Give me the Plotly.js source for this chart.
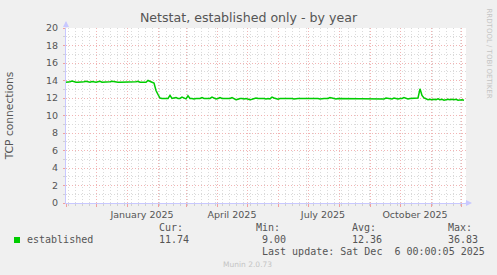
<!DOCTYPE html>
<html>
<head>
<meta charset="utf-8">
<script src="https://cdn.plot.ly/plotly-3.0.1.min.js"></script>
<style>html,body{margin:0;padding:0;background:#f0f0f0;}#chart{width:497px;height:275px;}</style>
</head>
<body>
<div id="chart"></div>
<script>
const startDate = '2024-11-01';
const stepDays = 2;
const established = [
13.8,13.8,13.85,13.95,13.85,13.8,13.8,13.8,13.8,13.85,
13.9,13.85,13.8,13.88,13.8,13.8,13.85,13.9,13.8,13.8,
13.8,13.8,13.85,13.92,13.85,13.8,13.8,13.8,13.8,13.8,
13.8,13.8,13.8,13.8,13.8,13.85,13.9,13.8,13.8,13.8,
13.8,14.0,13.85,13.8,13.7,12.85,12.4,12.0,11.95,11.95,
11.95,11.95,12.3,11.95,12.0,12.05,11.95,11.95,12.1,11.95,
11.9,12.25,11.95,11.95,11.9,11.95,11.95,11.95,12.05,11.95,
11.95,11.95,11.95,12.1,11.95,11.9,11.95,12.05,11.95,11.95,
12.0,11.95,11.95,12.05,11.9,11.8,11.85,11.95,11.95,11.9,
11.95,11.9,11.8,11.85,11.95,12.0,11.95,11.95,12.0,11.95,
11.9,11.95,11.9,12.1,12.0,11.9,11.85,11.95,11.95,11.95,
11.95,11.95,12.0,11.95,11.9,11.95,11.95,11.95,11.95,11.95,
11.95,11.95,12.0,12.0,11.95,12.0,11.95,11.9,11.95,11.95,
11.95,11.95,12.05,12.0,11.95,11.9,11.95,11.95,11.9,11.95,
11.95,11.95,11.95,11.95,11.95,11.95,11.95,11.95,11.95,11.9,
11.95,11.95,11.95,11.95,11.95,11.95,11.95,11.95,11.95,11.9,
12.0,11.95,11.95,11.9,12.0,11.95,11.9,11.95,11.95,12.05,
11.95,11.9,11.95,11.95,11.95,12.0,12.0,13.05,12.3,12.0,
11.85,11.8,11.85,11.8,11.85,11.8,11.9,11.8,11.85,11.75,
11.8,11.85,11.8,11.85,11.8,11.85,11.75,11.8,11.8,11.74
];
const monthTicks = ['2024-11-01','2024-12-01','2025-01-01','2025-02-01','2025-03-01','2025-04-01',
  '2025-05-01','2025-06-01','2025-07-01','2025-08-01','2025-09-01','2025-10-01','2025-11-01','2025-12-01'];
const monthLabels = ['','','January 2025','','','April 2025','','','July 2025','','','October 2025','',''];
const xRange = ['2024-11-01','2025-12-06'];
const yTicks = [0,2,4,6,8,10,12,14,16,18,20];
const legendName = 'established';
const statHeads = ['Cur:','Min:','Avg:','Max:'];
const statVals = ['11.74','9.00','12.36','36.83'];
const lastUpdate = 'Last update: Sat Dec \u00a06 00:00:05 2025';

// ---- build x dates ----
const t0 = new Date(startDate + 'T00:00:00Z').getTime();
const xDates = established.map((_, i) => new Date(t0 + i * stepDays * 86400000).toISOString().slice(0, 10));

// pixel -> paper helpers for texts outside the plot
const L = 66, T = 28, W = 400, H = 175;
const px = x => (x - L) / W;
const py = y => (T + H - y) / H;

const mono = {family: 'DejaVu Sans Mono', size: 10, color: '#555'};
const annotations = [];
const statX = [158, 255, 351, 446.7];
const statValX = [158, 261, 351, 446.7];
statHeads.forEach((h, i) => annotations.push({xref:'paper', yref:'paper', x: px(statX[i] - 1), y: py(227.7), text: h, showarrow:false, xanchor:'left', yanchor:'middle', font: mono}));
statVals.forEach((v, i) => annotations.push({xref:'paper', yref:'paper', x: px(statValX[i] - 1), y: py(239.7), text: v, showarrow:false, xanchor:'left', yanchor:'middle', font: mono}));
annotations.push({xref:'paper', yref:'paper', x: px(25), y: py(239.7), text: legendName, showarrow:false, xanchor:'left', yanchor:'middle', font: mono});
annotations.push({xref:'paper', yref:'paper', x: px(260), y: py(251.7), text: lastUpdate, showarrow:false, xanchor:'left', yanchor:'middle', font: mono});
annotations.push({xref:'paper', yref:'paper', x: px(247.7), y: py(264), text: 'Munin 2.0.73', showarrow:false, xanchor:'center', yanchor:'middle', font: {family:'DejaVu Sans', size: 7.5, color:'#c4c4c4'}});
annotations.push({xref:'paper', yref:'paper', x: px(488.5), y: py(54), text: 'RRDTOOL / TOBI OETIKER', showarrow:false, xanchor:'center', yanchor:'middle', textangle: 90, font: {family:'DejaVu Sans', size: 7, color:'#c4c4c4'}});
// axis arrows
annotations.push({xref:'paper', yref:'paper', x: px(66), y: py(21), ax: 0, ay: 8, text:'', showarrow:true, arrowhead:2, arrowsize:1, arrowwidth:1.2, arrowcolor:'#c8c8ff'});
annotations.push({xref:'paper', yref:'paper', x: px(472), y: py(203), ax: -8, ay: 0, text:'', showarrow:true, arrowhead:2, arrowsize:1, arrowwidth:1.2, arrowcolor:'#c8c8ff'});

const trace = {
  x: xDates, y: established, type: 'scatter', mode: 'lines', name: legendName,
  line: {color: '#00cc00', width: 1.5}, hoverinfo: 'skip'
};

const layout = {
  width: 497, height: 275,
  paper_bgcolor: '#f0f0f0', plot_bgcolor: '#ffffff',
  margin: {l: L, r: 497 - L - W, t: T, b: 275 - T - H, pad: 0},
  showlegend: false,
  font: {family: 'DejaVu Sans', color: '#555'},
  title: {text: 'Netstat, established only - by year', x: 0.5, xref: 'container', xanchor: 'center',
          y: 1 - 18 / 275, yref: 'container', yanchor: 'middle',
          font: {family: 'DejaVu Sans', size: 12.6, color: '#555'}},
  xaxis: {
    type: 'date', range: xRange, tickmode: 'array', tickvals: monthTicks, ticktext: monthLabels,
    ticklabelshift: 15, tickfont: {family: 'DejaVu Sans', size: 9.5, color: '#555'},
    ticks: 'outside', ticklen: 3, tickcolor: '#f0a0a0', tickwidth: 1,
    showgrid: true, gridcolor: '#f2b4b4', griddash: '1px,2px', gridwidth: 1,
    minor: {tick0: '2024-11-03', dtick: 7 * 86400000, showgrid: true, gridcolor: '#dadada', griddash: '1px,2px', ticks: 'outside', ticklen: 2, tickcolor: '#d0d0d0'},
    showline: true, linecolor: '#c8c8ff', linewidth: 1, zeroline: false, fixedrange: true
  },
  yaxis: {
    range: [0, 20], tickmode: 'array', tickvals: yTicks,
    tickfont: {family: 'DejaVu Sans', size: 9.5, color: '#555'},
    ticks: 'outside', ticklen: 2, tickcolor: '#f0a0a0', ticklabelstandoff: 3,
    showgrid: true, gridcolor: '#f2b4b4', griddash: '1px,2px', gridwidth: 1,
    minor: {dtick: 1, showgrid: true, gridcolor: '#dadada', griddash: '1px,2px', ticks: 'outside', ticklen: 2, tickcolor: '#d0d0d0'},
    showline: true, linecolor: '#c8c8ff', linewidth: 1, zeroline: false, fixedrange: true,
    title: {text: 'TCP connections', standoff: 30, font: {family: 'DejaVu Sans', size: 10.7, color: '#555'}}
  },
  shapes: [{type: 'rect', xref: 'paper', yref: 'paper', x0: px(14), x1: px(20), y0: py(243), y1: py(237),
            fillcolor: '#00cc00', line: {width: 0}}],
  annotations: annotations
};

Plotly.newPlot('chart', [trace], layout, {displayModeBar: false, staticPlot: true});
</script>
</body>
</html>
